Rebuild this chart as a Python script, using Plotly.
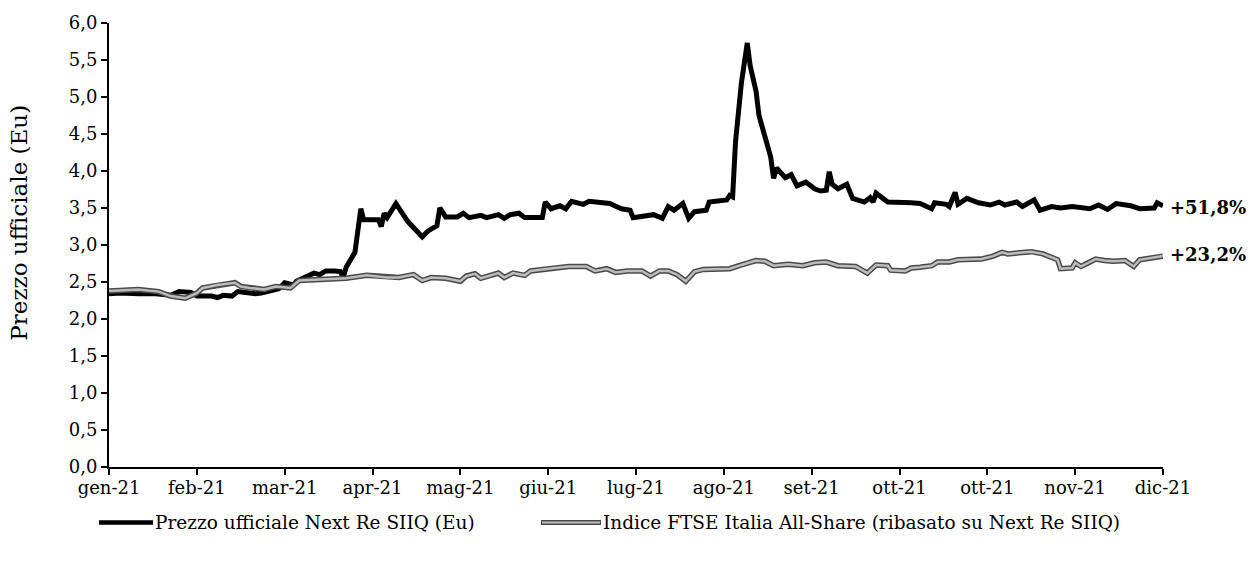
import pandas as pd
import plotly.graph_objects as go

# ---------------- data ----------------
next_re_dates = [
    "2021-01-04", "2021-01-08", "2021-01-14", "2021-01-20", "2021-01-25", "2021-01-28",
    "2021-02-01", "2021-02-03", "2021-02-08", "2021-02-10", "2021-02-12", "2021-02-15",
    "2021-02-17", "2021-02-19", "2021-02-23", "2021-02-25", "2021-03-01", "2021-03-03",
    "2021-03-05", "2021-03-08", "2021-03-09", "2021-03-12", "2021-03-15", "2021-03-17",
    "2021-03-19", "2021-03-22", "2021-03-24", "2021-03-25", "2021-03-26", "2021-03-29",
    "2021-03-30", "2021-03-31", "2021-04-01", "2021-04-06", "2021-04-07", "2021-04-08",
    "2021-04-09", "2021-04-12", "2021-04-15", "2021-04-16", "2021-04-21", "2021-04-23",
    "2021-04-26", "2021-04-27", "2021-04-29", "2021-05-03", "2021-05-05", "2021-05-07",
    "2021-05-11", "2021-05-13", "2021-05-17", "2021-05-19", "2021-05-21", "2021-05-24",
    "2021-05-26", "2021-06-01", "2021-06-02", "2021-06-04", "2021-06-07", "2021-06-09",
    "2021-06-11", "2021-06-15", "2021-06-17", "2021-06-24", "2021-06-28", "2021-07-01",
    "2021-07-02", "2021-07-05", "2021-07-09", "2021-07-12", "2021-07-14", "2021-07-16",
    "2021-07-19", "2021-07-21", "2021-07-23", "2021-07-27", "2021-07-28", "2021-08-03",
    "2021-08-04", "2021-08-05", "2021-08-06", "2021-08-08", "2021-08-10", "2021-08-11",
    "2021-08-13", "2021-08-14", "2021-08-16", "2021-08-18", "2021-08-19", "2021-08-20",
    "2021-08-23", "2021-08-25", "2021-08-27", "2021-08-30", "2021-09-02", "2021-09-04",
    "2021-09-06", "2021-09-07", "2021-09-08", "2021-09-10", "2021-09-13", "2021-09-15",
    "2021-09-19", "2021-09-21", "2021-09-22", "2021-09-23", "2021-09-27", "2021-10-01",
    "2021-10-05", "2021-10-08", "2021-10-12", "2021-10-13", "2021-10-17", "2021-10-18",
    "2021-10-20", "2021-10-21", "2021-10-24", "2021-10-28", "2021-11-01", "2021-11-04",
    "2021-11-06", "2021-11-10", "2021-11-12", "2021-11-16", "2021-11-18", "2021-11-22",
    "2021-11-25", "2021-11-29", "2021-12-02", "2021-12-05", "2021-12-08", "2021-12-11",
    "2021-12-14", "2021-12-19", "2021-12-22", "2021-12-27", "2021-12-28", "2021-12-30",
]
next_re_values = [
    2.34, 2.35, 2.34, 2.34, 2.32, 2.37,
    2.36, 2.31, 2.31, 2.29, 2.32, 2.31,
    2.37, 2.36, 2.34, 2.35, 2.40, 2.41,
    2.49, 2.46, 2.51, 2.56, 2.62, 2.60,
    2.65, 2.65, 2.64, 2.56, 2.70, 2.90,
    3.15, 3.49, 3.34, 3.34, 3.25, 3.43,
    3.37, 3.56, 3.38, 3.32, 3.11, 3.19,
    3.26, 3.50, 3.38, 3.38, 3.43, 3.37,
    3.40, 3.37, 3.41, 3.36, 3.41, 3.43,
    3.37, 3.37, 3.58, 3.49, 3.53, 3.49,
    3.59, 3.55, 3.59, 3.56, 3.49, 3.47,
    3.37, 3.38, 3.41, 3.36, 3.52, 3.47,
    3.56, 3.36, 3.45, 3.47, 3.58, 3.61,
    3.67, 3.65, 4.40, 5.19, 5.73, 5.42,
    5.08, 4.75, 4.48, 4.19, 3.90, 4.04,
    3.91, 3.95, 3.80, 3.85, 3.76, 3.73,
    3.74, 3.99, 3.82, 3.76, 3.82, 3.63,
    3.58, 3.64, 3.58, 3.70, 3.58, 3.58,
    3.57, 3.56, 3.49, 3.57, 3.55, 3.52,
    3.71, 3.55, 3.63, 3.57, 3.54, 3.58,
    3.54, 3.58, 3.52, 3.61, 3.47, 3.52,
    3.50, 3.52, 3.50, 3.49, 3.54, 3.48,
    3.56, 3.53, 3.49, 3.50, 3.57, 3.53,
]

ftse_dates = [
    "2021-01-04", "2021-01-14", "2021-01-21", "2021-01-25", "2021-01-30", "2021-02-03",
    "2021-02-05", "2021-02-10", "2021-02-16", "2021-02-18", "2021-02-21", "2021-02-26",
    "2021-03-02", "2021-03-07", "2021-03-10", "2021-03-17", "2021-03-26", "2021-04-02",
    "2021-04-09", "2021-04-13", "2021-04-18", "2021-04-21", "2021-04-24", "2021-04-29",
    "2021-05-04", "2021-05-06", "2021-05-09", "2021-05-11", "2021-05-17", "2021-05-19",
    "2021-05-22", "2021-05-26", "2021-05-28", "2021-06-03", "2021-06-10", "2021-06-16",
    "2021-06-19", "2021-06-23", "2021-06-26", "2021-06-30", "2021-07-05", "2021-07-08",
    "2021-07-11", "2021-07-14", "2021-07-17", "2021-07-20", "2021-07-23", "2021-07-26",
    "2021-08-04", "2021-08-08", "2021-08-13", "2021-08-16", "2021-08-19", "2021-08-24",
    "2021-08-29", "2021-09-02", "2021-09-06", "2021-09-10", "2021-09-16", "2021-09-20",
    "2021-09-23", "2021-09-27", "2021-09-28", "2021-10-03", "2021-10-05", "2021-10-08",
    "2021-10-12", "2021-10-14", "2021-10-18", "2021-10-21", "2021-10-26", "2021-10-29",
    "2021-11-02", "2021-11-05", "2021-11-07", "2021-11-12", "2021-11-15", "2021-11-19",
    "2021-11-22", "2021-11-24", "2021-11-25", "2021-11-29", "2021-11-30", "2021-12-02",
    "2021-12-04", "2021-12-07", "2021-12-10", "2021-12-13", "2021-12-17", "2021-12-20",
    "2021-12-22", "2021-12-26", "2021-12-30",
]
ftse_values = [
    2.38, 2.40, 2.37, 2.31, 2.28, 2.35,
    2.42, 2.46, 2.49, 2.44, 2.42, 2.40,
    2.44, 2.42, 2.52, 2.53, 2.55, 2.59,
    2.56, 2.56, 2.60, 2.52, 2.56, 2.55,
    2.51, 2.58, 2.61, 2.55, 2.62, 2.56,
    2.62, 2.59, 2.65, 2.68, 2.71, 2.71,
    2.65, 2.68, 2.63, 2.65, 2.65, 2.58,
    2.65, 2.65, 2.60, 2.51, 2.64, 2.67,
    2.68, 2.73, 2.79, 2.78, 2.72, 2.74,
    2.72, 2.76, 2.77, 2.72, 2.71, 2.62,
    2.73, 2.72, 2.66, 2.65, 2.69, 2.70,
    2.72, 2.77, 2.77, 2.80, 2.81, 2.81,
    2.85, 2.90, 2.88, 2.90, 2.91, 2.88,
    2.83, 2.80, 2.68, 2.69, 2.76, 2.71,
    2.75, 2.81, 2.79, 2.78, 2.79, 2.71,
    2.80, 2.83, 2.85,
]

x_tick_labels = ["gen-21", "feb-21", "mar-21", "apr-21", "mag-21", "giu-21", "lug-21",
                 "ago-21", "set-21", "ott-21", "ott-21", "nov-21", "dic-21"]
series_names = ["Prezzo ufficiale Next Re SIIQ (Eu)",
                "Indice FTSE Italia All-Share (ribasato su Next Re SIIQ)"]
end_labels = ["+51,8%", "+23,2%"]
y_title = "Prezzo ufficiale (Eu)"

# ---------------- figure ----------------
FONT = "DejaVu Serif, Liberation Serif, serif"
W, H = 1253, 562
ML, MR, MT, MB = 109, 90, 20, 95
PW, PH = W - ML - MR, H - MT - MB

tick_dates = pd.date_range(start=next_re_dates[0], periods=len(x_tick_labels), freq="30D")

fig = go.Figure()
fig.add_trace(go.Scatter(x=next_re_dates, y=next_re_values, mode="lines", name=series_names[0],
                         line=dict(color="#000000", width=5), showlegend=False))
# FTSE: dark outline + light inner line to mimic the patterned line
fig.add_trace(go.Scatter(x=ftse_dates, y=ftse_values, mode="lines",
                         line=dict(color="#4a4a4a", width=5.5), showlegend=False,
                         hoverinfo="skip"))
fig.add_trace(go.Scatter(x=ftse_dates, y=ftse_values, mode="lines", name=series_names[1],
                         line=dict(color="#bcbcbc", width=2.5), showlegend=False))

# end labels
fig.add_annotation(x=next_re_dates[-1], y=next_re_values[-1], text="<b>%s</b>" % end_labels[0],
                   showarrow=False, xanchor="left", yanchor="middle", xshift=5, yshift=-2,
                   font=dict(family=FONT, size=18, color="#000"))
fig.add_annotation(x=ftse_dates[-1], y=ftse_values[-1], text="<b>%s</b>" % end_labels[1],
                   showarrow=False, xanchor="left", yanchor="middle", xshift=5, yshift=2,
                   font=dict(family=FONT, size=18, color="#000"))


def px_x(px):
    return (px - ML) / PW


def px_y(py):
    return (MT + PH - py) / PH


# y-axis title
fig.add_annotation(xref="paper", yref="paper", x=px_x(19), y=px_y(221),
                   text=y_title, textangle=-90, showarrow=False,
                   xanchor="center", yanchor="middle",
                   font=dict(family=FONT, size=23, color="#000"))

# manual legend
leg_y = 523
LEG_SIZE = 18.5
fig.add_shape(type="line", xref="paper", yref="paper", x0=px_x(99), x1=px_x(153),
              y0=px_y(leg_y), y1=px_y(leg_y), line=dict(color="#000", width=4.5))
fig.add_annotation(xref="paper", yref="paper", x=px_x(153), y=px_y(leg_y), text=series_names[0],
                   showarrow=False, xanchor="left", yanchor="middle",
                   font=dict(family=FONT, size=LEG_SIZE, color="#000"))
fig.add_shape(type="line", xref="paper", yref="paper", x0=px_x(541), x1=px_x(601),
              y0=px_y(leg_y), y1=px_y(leg_y), line=dict(color="#4a4a4a", width=5))
fig.add_shape(type="line", xref="paper", yref="paper", x0=px_x(542), x1=px_x(600),
              y0=px_y(leg_y), y1=px_y(leg_y), line=dict(color="#bcbcbc", width=2))
fig.add_annotation(xref="paper", yref="paper", x=px_x(601), y=px_y(leg_y), text=series_names[1],
                   showarrow=False, xanchor="left", yanchor="middle",
                   font=dict(family=FONT, size=LEG_SIZE, color="#000"))

fig.update_layout(
    width=W, height=H,
    margin=dict(l=ML, r=MR, t=MT, b=MB, pad=0),
    paper_bgcolor="white", plot_bgcolor="white",
    separators=",.",
    font=dict(family=FONT, size=18, color="#000"),
    showlegend=False,
)
fig.update_xaxes(
    type="date",
    range=[tick_dates[0], tick_dates[-1]],
    tickvals=tick_dates, ticktext=x_tick_labels,
    showgrid=False, zeroline=False,
    showline=True, linecolor="#000", linewidth=2,
    ticks="outside", ticklen=6, tickwidth=1.5, tickcolor="#000",
    ticklabelstandoff=-3,
    tickfont=dict(family=FONT, size=18, color="#000"),
)
fig.update_yaxes(
    range=[0, 6], dtick=0.5, tick0=0, tickformat=".1f",
    showgrid=False, zeroline=False,
    showline=True, linecolor="#000", linewidth=2,
    ticks="outside", ticklen=6, tickwidth=1.5, tickcolor="#000",
    tickfont=dict(family=FONT, size=18, color="#000"),
)

fig.write_html("out.html", config={"displayModeBar": False},
               post_script="document.body.style.margin='0';")
